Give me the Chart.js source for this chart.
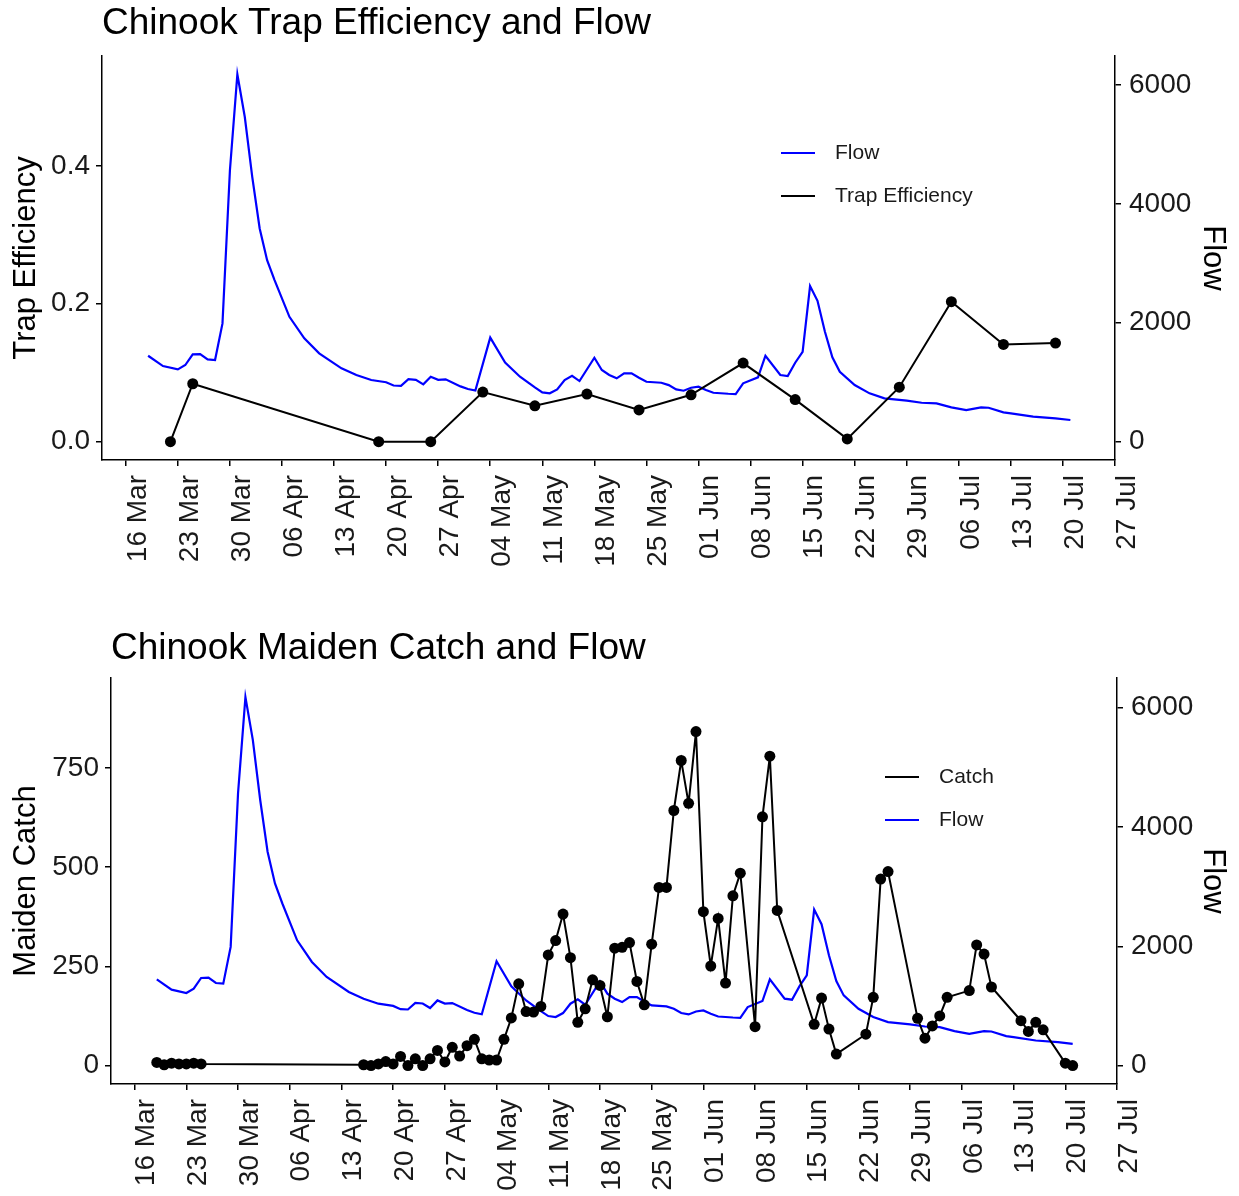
<!DOCTYPE html>
<html>
<head>
<meta charset="utf-8">
<title>Chinook Trap Efficiency, Maiden Catch and Flow</title>
<script src="https://cdn.jsdelivr.net/npm/chart.js@4.4.1/dist/chart.umd.min.js"></script>
<style>
  html, body { margin: 0; padding: 0; background: #fff; }
  canvas { display: block; }
</style>
</head>
<body>
<canvas id="effChart" width="1239" height="600"></canvas>
<canvas id="catchChart" width="1239" height="596"></canvas>
<script>
// x values are days counted from 16 Mar
const tickDays = [0, 7, 14, 21, 28, 35, 42, 49, 56, 63, 70, 77, 84, 91, 98, 105, 112, 119, 126, 133];
const tickLabels = ["16 Mar", "23 Mar", "30 Mar", "06 Apr", "13 Apr", "20 Apr", "27 Apr", "04 May", "11 May",
  "18 May", "25 May", "01 Jun", "08 Jun", "15 Jun", "22 Jun", "29 Jun", "06 Jul", "13 Jul", "20 Jul", "27 Jul"];

// river flow (same series on both panels)
const flowDays = [3, 5, 7, 8, 9, 10, 11, 12, 13, 14, 15, 16, 17, 18, 19, 20, 22, 24, 26, 29, 31, 33, 35, 36, 37,
  38, 39, 40, 41, 42, 43, 45, 46, 47, 49, 51, 53, 55, 56, 57, 58, 59, 60, 61, 63, 64, 65, 66, 67, 68, 69, 70,
  72, 73, 74, 75, 76, 77, 78, 79, 81, 82, 83, 85, 86, 88, 89, 90, 91, 92, 93, 94, 95, 96, 98, 100, 102, 105,
  107, 109, 111, 113, 115, 116, 118, 119, 122, 125, 127];
const flowValues = [1445, 1272, 1216, 1289, 1468, 1473, 1384, 1373, 1989, 4565, 6177, 5460, 4452, 3585, 3053,
  2717, 2100, 1737, 1485, 1233, 1121, 1037, 1000, 945, 940, 1050, 1040, 964, 1092, 1040, 1048, 930, 885, 860,
  1750, 1330, 1092, 914, 830, 813, 880, 1037, 1109, 1020, 1411, 1205, 1121, 1065, 1149, 1149, 1075, 1008,
  991, 952, 880, 857, 907, 924, 869, 823, 806, 801, 981, 1082, 1445, 1121, 1104, 1328, 1512, 2616, 2369, 1848,
  1418, 1176, 952, 813, 729, 689, 655, 645, 578, 532, 578, 571, 494, 477, 420, 393, 365];

// trap efficiency trials
const effDays = [6, 9, 34, 41, 48, 55, 62, 69, 76, 83, 90, 97, 104, 111, 118, 125];
const effValues = [0, 0.084, 0, 0, 0.072, 0.052, 0.069, 0.046, 0.068, 0.114, 0.061, 0.004, 0.079, 0.203, 0.141, 0.143];

// daily maiden catch
const catchDays = [3, 4, 5, 6, 7, 8, 9, 31, 32, 33, 34, 35, 36, 37, 38, 39, 40, 41, 42, 43, 44, 45, 46, 47, 48,
  49, 50, 51, 52, 53, 54, 55, 56, 57, 58, 59, 60, 61, 62, 63, 64, 65, 66, 67, 68, 69, 70, 71, 72, 73, 74, 75,
  76, 77, 78, 79, 80, 81, 82, 84, 85, 86, 87, 92, 93, 94, 95, 99, 100, 101, 102, 106, 107, 108, 109, 110,
  113, 114, 115, 116, 120, 121, 122, 123, 126, 127];
const catchValues = [8, 2, 6, 4, 4, 6, 4, 2, 0, 4, 10, 4, 23, 0, 17, 0, 17, 38, 9, 46, 24, 50, 66, 17, 14,
  14, 66, 120, 206, 136, 135, 149, 279, 315, 382, 272, 109, 143, 216, 202, 123, 296, 298, 310, 212, 153, 306,
  449, 449, 643, 769, 661, 842, 388, 251, 371, 208, 428, 485, 98, 627, 780, 391, 104, 170, 92, 29, 79, 172,
  470, 489, 119, 69, 100, 125, 172, 189, 304, 281, 198, 113, 86, 109, 90, 6, 0];

const effTicks = [0, 0.2, 0.4];
const catchTicks = [0, 250, 500, 750];
const flowTicks = [0, 2000, 4000, 6000];

const FONT = "'Liberation Sans', Arial, sans-serif";
const INK = "#1a1a1a";

function pairs(xs, ys) {
  return xs.map((x, i) => ({ x: x, y: ys[i] }));
}

// legend with plain line keys, placed inside the plot
const lineLegend = {
  id: "lineLegend",
  afterDraw(chart, args, opts) {
    const ctx = chart.ctx;
    ctx.save();
    ctx.font = opts.size + "px " + FONT;
    ctx.textBaseline = "middle";
    ctx.textAlign = "left";
    opts.items.forEach((idx, row) => {
      const ds = chart.data.datasets[idx];
      const y = opts.y + row * opts.gap;
      ctx.strokeStyle = ds.borderColor;
      ctx.lineWidth = 2;
      ctx.beginPath();
      ctx.moveTo(opts.x, y);
      ctx.lineTo(opts.x + 34, y);
      ctx.stroke();
      ctx.fillStyle = INK;
      ctx.fillText(ds.label, opts.x + 54, y);
    });
    ctx.restore();
  }
};

function axisLook() {
  return {
    border: { display: true, color: "#000", width: 1.5 },
    grid: { display: true, drawOnChartArea: false, drawTicks: true, tickLength: 6, color: "#000", lineWidth: 1.5 }
  };
}

function buildOptions(p) {
  return {
    responsive: false,
    animation: false,
    events: [],
    layout: { padding: 0 },
    plugins: {
      legend: { display: false },
      tooltip: { enabled: false },
      title: {
        display: true, text: p.title, align: "start", fullSize: false, color: "#000",
        font: { family: FONT, size: 37, weight: "normal", lineHeight: 1 },
        padding: { top: p.titleTop, bottom: p.titleBottom }
      },
      lineLegend: p.legend
    },
    scales: {
      x: Object.assign(axisLook(), {
        type: "linear", min: -3.2, max: 133,
        afterBuildTicks: s => { s.ticks = tickDays.map(v => ({ value: v })); },
        afterFit: s => { s.height = p.xHeight; },
        ticks: {
          autoSkip: false, minRotation: 90, maxRotation: 90, padding: 9, labelOffset: 12, color: INK,
          font: { family: FONT, size: 28 },
          callback: v => tickLabels[tickDays.indexOf(v)]
        }
      }),
      yLeft: Object.assign(axisLook(), {
        type: "linear", position: "left", min: p.leftMin, max: p.leftMax,
        afterBuildTicks: s => { s.ticks = p.leftTicks.map(v => ({ value: v })); },
        afterFit: s => { s.width = p.leftWidth; },
        ticks: { padding: 6, color: INK, font: { family: FONT, size: 28 }, callback: p.leftFmt },
        title: { display: true, text: p.leftTitle, color: "#000", font: { family: FONT, size: 31 }, padding: { top: 8, bottom: 0 } }
      }),
      yRight: Object.assign(axisLook(), {
        type: "linear", position: "right", min: p.rightMin, max: p.rightMax,
        afterBuildTicks: s => { s.ticks = flowTicks.map(v => ({ value: v })); },
        afterFit: s => { s.width = p.rightWidth; },
        ticks: { padding: 8, color: INK, font: { family: FONT, size: 28 }, callback: v => String(v) },
        title: { display: true, text: "Flow", color: "#000", font: { family: FONT, size: 31 }, padding: { top: 8, bottom: 0 } }
      })
    }
  };
}

const blackLine = { borderColor: "#000", backgroundColor: "#000", borderWidth: 2, pointRadius: 5.5,
  pointBackgroundColor: "#000", pointBorderWidth: 0, tension: 0, yAxisID: "yLeft" };
const blueLine = { borderColor: "#0000ff", backgroundColor: "#0000ff", borderWidth: 2.2, pointRadius: 0,
  tension: 0, yAxisID: "yRight" };

// Top panel: trap efficiency and flow
new Chart(document.getElementById("effChart"), {
  type: "line",
  data: {
    datasets: [
      Object.assign({ label: "Trap Efficiency", data: pairs(effDays, effValues) }, blackLine),
      Object.assign({ label: "Flow", data: pairs(flowDays, flowValues) }, blueLine)
    ]
  },
  options: buildOptions({
    title: "Chinook Trap Efficiency and Flow", titleTop: 5, titleBottom: 14,
    xHeight: 140, leftWidth: 102, rightWidth: 124,
    leftMin: -0.0266, leftMax: 0.5594, leftTicks: effTicks, leftFmt: v => v.toFixed(1),
    leftTitle: "Trap Efficiency",
    rightMin: -308, rightMax: 6486,
    legend: { x: 781, y: 153, gap: 43, size: 21, items: [1, 0] }
  }),
  plugins: [lineLegend]
});

// Bottom panel: maiden catch and flow
new Chart(document.getElementById("catchChart"), {
  type: "line",
  data: {
    datasets: [
      Object.assign({ label: "Catch", data: pairs(catchDays, catchValues) }, blackLine),
      Object.assign({ label: "Flow", data: pairs(flowDays, flowValues) }, blueLine)
    ]
  },
  options: buildOptions({
    title: "Chinook Maiden Catch and Flow", titleTop: 30, titleBottom: 11,
    xHeight: 112, leftWidth: 111, rightWidth: 122,
    leftMin: -46.5, leftMax: 977, leftTicks: catchTicks, leftFmt: v => String(v),
    leftTitle: "Maiden Catch",
    rightMin: -309, rightMax: 6497,
    legend: { x: 885, y: 177, gap: 43, size: 21, items: [0, 1] }
  }),
  plugins: [lineLegend]
});
</script>
</body>
</html>
